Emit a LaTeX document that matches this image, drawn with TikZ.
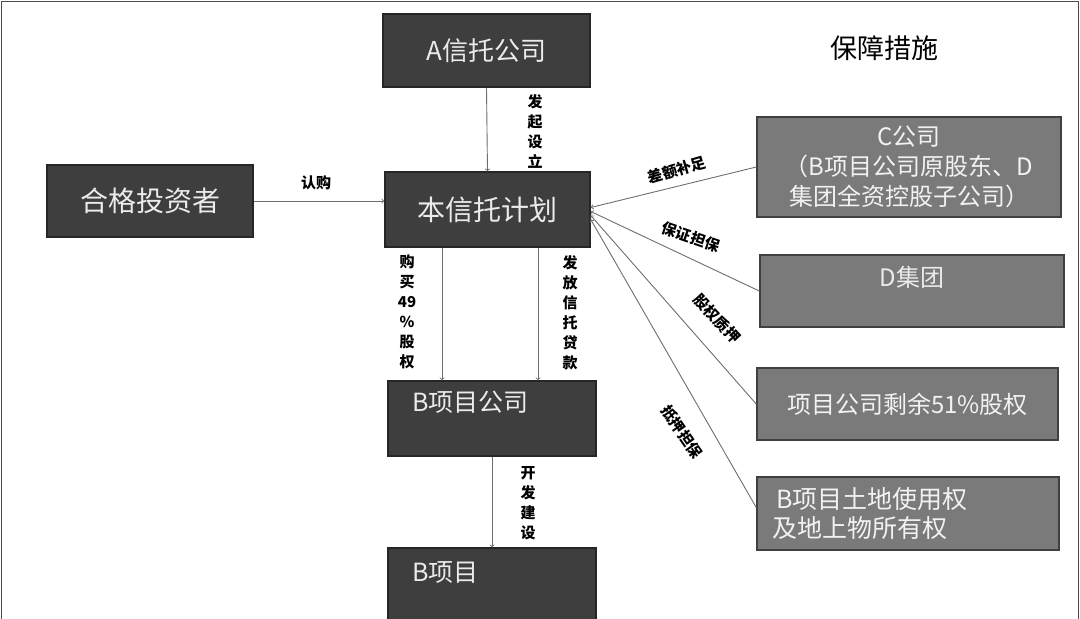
\documentclass[tikz,border=0pt]{standalone}
\usepackage{fontspec}
\setmainfont{Noto Sans CJK SC}
\definecolor{boxdark}{HTML}{3E3E3E}
\definecolor{boxgrey}{HTML}{7A7A7A}
\definecolor{linegrey}{HTML}{6E6E6E}

\begin{document}
\begin{tikzpicture}[x=1pt,y=-1pt,
    darkbox/.style={draw=black!85,line width=1.5pt,fill=boxdark,text=white!92!black,inner sep=0pt},
    greybox/.style={draw=black!75,line width=1.5pt,fill=boxgrey,text=white!95!black,inner sep=0pt},
    boxtxt/.style={text=white!92!black,inner sep=0pt,font=\fontsize{25}{30}\selectfont},
    lbl/.style={font=\fontsize{15}{20}\selectfont\bfseries,align=center,inner sep=0pt},
    arr/.style={->,draw=linegrey,line width=0.9pt}]
      \useasboundingbox (0,0) rectangle (1080,619);
      \clip (0,0) rectangle (1080,619);
      \draw[black!70,line width=1.5pt] (1.5,640) -- (1.5,1.5) -- (1078.5,1.5) -- (1078.5,640);
      % left and middle column
      \node[darkbox,minimum width=207pt,minimum height=73pt,font=\fontsize{26}{30}\selectfont] (trustco) at (486.5,50.5) {A信托公司};
      \node[darkbox,minimum width=206pt,minimum height=72pt,font=\fontsize{28}{32}\selectfont] (investor) at (150,201) {合格投资者};
      \node[darkbox,minimum width=205pt,minimum height=75pt,font=\fontsize{28}{32}\selectfont] (plan) at (487.5,209.5) {本信托计划};
      \node[darkbox,minimum width=208pt,minimum height=75pt,label={[boxtxt,anchor=west,xshift=25pt,yshift=16pt]west:B项目公司}] (bco) at (492,418.5) {};
      \node[darkbox,minimum width=208pt,minimum height=76pt,label={[boxtxt,anchor=west,xshift=25pt,yshift=13pt]west:B项目}] (bproj) at (492,586) {};
      % right column
      \node[font=\fontsize{27}{30}\selectfont] (title) at (884,48) {保障措施};
      \node[greybox,minimum width=304pt,minimum height=100pt,align=center,font=\fontsize{24}{30}\selectfont] (ccorp) at (909,167) {C公司\\（B项目公司原股东、D\\集团全资控股子公司）};
      \node[greybox,minimum width=304pt,minimum height=72pt,label={[boxtxt,font=\fontsize{24}{28}\selectfont,anchor=center,yshift=14pt]center:D集团}] (dgroup) at (912,291) {};
      \node[greybox,minimum width=301pt,minimum height=72pt,font=\fontsize{24}{28}\selectfont] (equity) at (907.5,404) {项目公司剩余51\%股权};
      \node[greybox,minimum width=302pt,minimum height=73pt,text width=272pt,inner xsep=15pt,align=left,font=\fontsize{25}{29}\selectfont] (land) at (908,513.5) {\hspace{4pt}B项目土地使用权\\及地上物所有权};
      % connectors
      \draw[arr] (trustco.south) -- (plan.north);
      \node[lbl] (setup) at (535,131) {发\\起\\设\\立};
      \draw[arr] (investor.east) -- (investor.east -| plan.west);
      \node[lbl] (subscribe) at (316,183) {认购};
      \draw[arr] ([xshift=-45.5pt]plan.south) -- ([xshift=-45.5pt]plan.south |- bco.north);
      \node[lbl] (buy) at (407,312) {购\\买\\49\\\%\\股\\权};
      \draw[arr] ([xshift=50.5pt]plan.south) -- ([xshift=50.5pt]plan.south |- bco.north);
      \node[lbl] (loan) at (570,313) {发\\放\\信\\托\\贷\\款};
      \draw[arr] (bco.south) -- (bproj.north);
      \node[lbl] (build) at (528,503) {开\\发\\建\\设};
      \draw[arr] (ccorp.west) -- ([yshift=2pt]plan.east);
      \node[lbl,rotate=16] (topup) at (677,170) {差额补足};
      \draw[arr] (dgroup.west) -- ([yshift=-2pt]plan.east);
      \node[lbl,rotate=-19] (guarantee) at (691,237) {保证担保};
      \draw[arr] (equity.west) -- ([yshift=-6pt]plan.east);
      \node[lbl,rotate=-47] (pledge) at (717,319) {股权质押};
      \draw[arr] ([yshift=6pt]land.west) -- ([yshift=-10pt]plan.east);
      \node[lbl,rotate=-55] (mortgage) at (682,432) {抵押担保};
\end{tikzpicture}
\end{document}
